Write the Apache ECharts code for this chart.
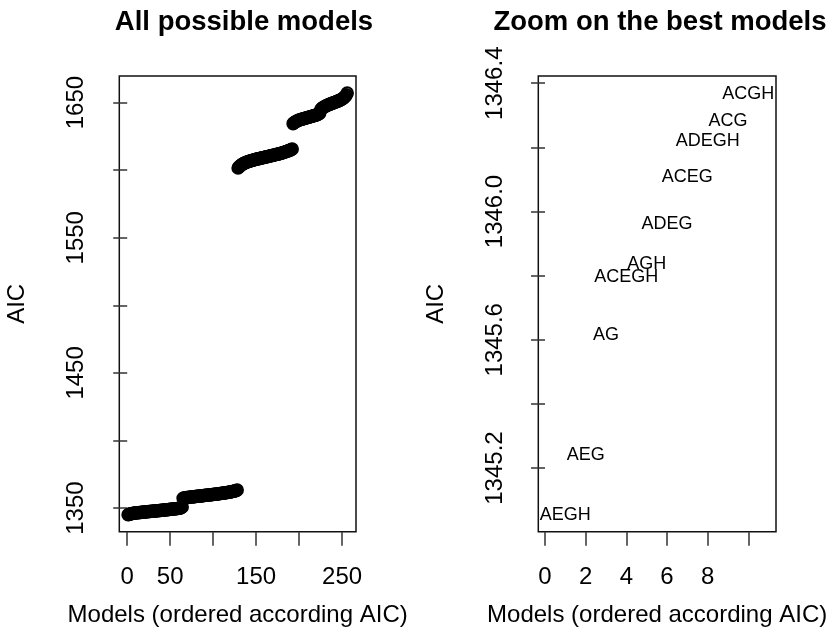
<!DOCTYPE html>
<html><head><meta charset="utf-8">
<script src="https://cdn.jsdelivr.net/npm/echarts@6/dist/echarts.min.js"></script>
<style>html,body{margin:0;padding:0;background:#fff}#c{width:832px;height:641px}</style>
</head><body><div id="c"></div>
<script>
// AIC of all 256 models, sorted ascending
const aicSorted = [
 1345.054,1345.240,1345.616,1345.795,1345.836,1345.961,1346.109,1346.219,1346.283,1346.367,
 1346.45,1346.52,1346.58,1346.66,1346.71,1346.79,1346.85,1346.93,1347.00,1347.06,
 1347.12,1347.19,1347.25,1347.33,1347.38,1347.44,1347.52,1347.57,1347.63,1347.70,
 1347.76,1347.83,1347.88,1347.95,1348.02,1348.07,1348.15,1348.21,1348.27,1348.34,
 1348.40,1348.47,1348.55,1348.60,1348.68,1348.74,1348.81,1348.89,1348.96,1349.03,
 1349.10,1349.18,1349.25,1349.33,1349.41,1349.48,1349.57,1349.66,1349.74,1349.83,
 1349.93,1350.10,1350.40,1350.75,
 1357.21,1357.38,1357.52,1357.63,1357.72,1357.80,1357.89,1357.97,1358.05,1358.12,
 1358.20,1358.27,1358.35,1358.42,1358.49,1358.57,1358.64,1358.71,1358.79,1358.86,
 1358.93,1359.01,1359.08,1359.15,1359.23,1359.30,1359.38,1359.45,1359.53,1359.60,
 1359.68,1359.75,1359.83,1359.91,1359.98,1360.06,1360.14,1360.22,1360.30,1360.38,
 1360.46,1360.54,1360.62,1360.71,1360.79,1360.88,1360.97,1361.06,1361.15,1361.25,
 1361.35,1361.45,1361.56,1361.67,1361.79,1361.91,1362.04,1362.18,1362.33,1362.49,
 1362.66,1362.85,1363.07,1363.35,
 1601.62,1602.35,1602.98,1603.52,1603.97,1604.38,1604.76,1605.10,1605.41,1605.70,
 1605.96,1606.20,1606.43,1606.65,1606.86,1607.06,1607.25,1607.43,1607.60,1607.77,
 1607.93,1608.09,1608.24,1608.39,1608.54,1608.69,1608.84,1608.99,1609.14,1609.29,
 1609.44,1609.59,1609.74,1609.89,1610.04,1610.19,1610.34,1610.49,1610.64,1610.79,
 1610.94,1611.09,1611.24,1611.40,1611.56,1611.72,1611.89,1612.06,1612.23,1612.41,
 1612.59,1612.78,1612.97,1613.17,1613.37,1613.58,1613.80,1614.02,1614.25,1614.49,
 1614.74,1615.00,1615.30,1615.70,
 1634.45,1635.10,1635.55,1635.92,1636.25,1636.55,1636.82,1637.07,1637.30,1637.52,
 1637.73,1637.93,1638.12,1638.30,1638.48,1638.66,1638.83,1639.00,1639.17,1639.34,
 1639.51,1639.68,1639.86,1640.04,1640.23,1640.43,1640.64,1640.87,1641.12,1641.40,
 1641.72,1642.10,1644.60,1645.40,1645.95,1646.40,1646.80,1647.15,1647.48,1647.79,
 1648.08,1648.36,1648.63,1648.89,1649.14,1649.39,1649.63,1649.87,1650.11,1650.35,
 1650.60,1650.85,1651.11,1651.38,1651.66,1651.96,1652.29,1652.66,1653.08,1653.58,
 1654.20,1654.95,1655.85,1657.05
];
// names of the 10 best models (in order)
const bestModels = ['AEGH','AEG','AG','ACEGH','AGH','ADEG','ACEG','ADEGH','ACG','ACGH'];

const leftXTicks = [0,50,100,150,200,250];
const leftXLabels = [0,50,150,250];
const leftYTicks = [1350,1400,1450,1500,1550,1600,1650];
const leftYLabels = [1350,1450,1550,1650];
const rightXTicks = [0,2,4,6,8,10];
const rightXLabels = [0,2,4,6,8];
const rightYTicks = [1345.2,1345.4,1345.6,1345.8,1346.0,1346.2,1346.4];
const rightYLabels = [1345.2,1345.6,1346.0,1346.4];

const FONT = "'Liberation Sans', Arial, Helvetica, sans-serif";
const chart = echarts.init(document.getElementById('c'), null, {renderer:'canvas'});

const allData = aicSorted.map((v,i)=>[i+1, v]);
const nBest = bestModels.length;
const bestData = aicSorted.slice(0, nBest).map((v,i)=>({value:[i+1, v], name: bestModels[i]}));

function xAxisCfg(idx, min, max, ticks, labels, fmt){
  return {
    type:'value', gridIndex: idx, min, max,
    name:'Models (ordered according AIC)', nameLocation:'middle', nameGap:72,
    nameTextStyle:{fontFamily:FONT, fontSize:24, color:'#000'},
    axisLine:{show:false},
    axisTick:{show:true, inside:false, length:14, customValues:ticks, lineStyle:{color:'#333', width:1.5}},
    axisLabel:{show:true, margin:34, customValues:labels, fontFamily:FONT, fontSize:24, color:'#000', formatter: fmt},
    splitLine:{show:false}
  };
}
function yAxisCfg(idx, min, max, ticks, labels, fmt){
  return {
    type:'value', gridIndex: idx, min, max,
    name:'AIC', nameLocation:'middle', nameGap:90, nameRotate:90,
    nameTextStyle:{fontFamily:FONT, fontSize:24, color:'#000'},
    axisLine:{show:false},
    axisTick:{show:true, inside:false, length:14, customValues:ticks, lineStyle:{color:'#333', width:1.5}},
    axisLabel:{show:true, rotate:90, margin:31, customValues:labels, fontFamily:FONT, fontSize:24, color:'#000', formatter: fmt},
    splitLine:{show:false}
  };
}

chart.setOption({
  animation:false,
  backgroundColor:'#fff',
  title:[
    {text:'All possible models', left:239, top:3, textAlign:'center',
     textStyle:{fontFamily:FONT, fontSize:27.5, fontWeight:'bold', color:'#000'}},
    {text:'Zoom on the best models', left:655, top:3, textAlign:'center',
     textStyle:{fontFamily:FONT, fontSize:27.5, fontWeight:'bold', color:'#000'}}
  ],
  grid:[
    {left:119.3, top:76, width:236.7, height:455.7, show:true, borderColor:'#111', borderWidth:1.5, backgroundColor:'transparent'},
    {left:538.3, top:76, width:237.7, height:455.7, show:true, borderColor:'#111', borderWidth:1.5, backgroundColor:'transparent'}
  ],
  xAxis:[
    xAxisCfg(0, -9.2, 266.2, leftXTicks, leftXLabels, v=>String(v)),
    xAxisCfg(1, -0.33, 11.36, rightXTicks, rightXLabels, v=>String(v))
  ],
  yAxis:[
    yAxisCfg(0, 1332.5, 1669.7, leftYTicks, leftYLabels, v=>String(v)),
    yAxisCfg(1, 1345.0015, 1346.4225, rightYTicks, rightYLabels, v=>Number(v).toFixed(1))
  ],
  series:[
    {type:'scatter', xAxisIndex:0, yAxisIndex:0, data: allData, symbol:'circle', symbolSize:11.5,
     itemStyle:{color:'rgba(255,255,255,0)', borderColor:'#000', borderWidth:2, opacity:1},
     emphasis:{disabled:true}},
    {type:'scatter', xAxisIndex:1, yAxisIndex:1, data: bestData, symbolSize:1,
     itemStyle:{color:'rgba(0,0,0,0)'},
     label:{show:true, position:'inside', formatter: p=>p.name, fontFamily:FONT, fontSize:18, color:'#000', opacity:1},
     emphasis:{disabled:true}}
  ]
});
</script></body></html>
